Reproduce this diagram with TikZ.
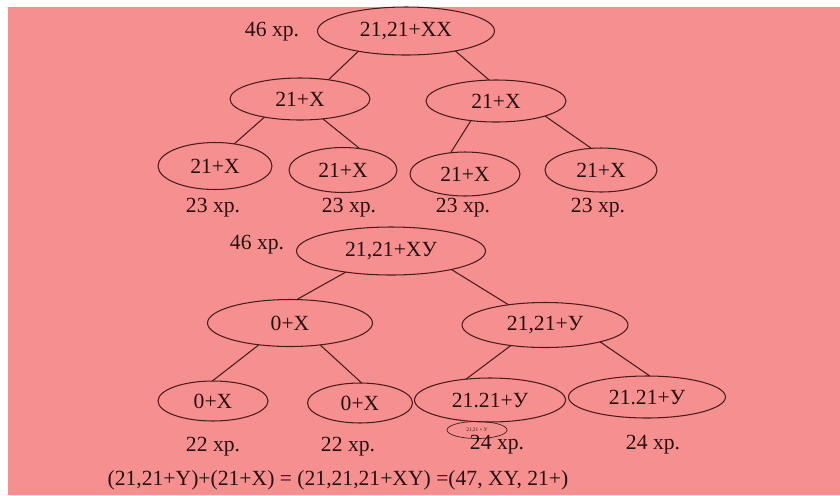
\documentclass[tikz,border=0pt]{standalone}
\usepackage{fontspec}
\setmainfont{Liberation Serif}
\usepackage{xcolor}
\definecolor{bgpink}{RGB}{246,143,143}
\definecolor{inkdark}{RGB}{40,16,16}
\definecolor{linebrown}{RGB}{72,28,28}
\usetikzlibrary{shapes.geometric}

\begin{document}
\begin{tikzpicture}[x=0.02cm, y=-0.02cm,
  cell/.style={draw=linebrown, line width=0.6pt, ellipse, inner sep=0pt, outer sep=0pt,
               text=inkdark, font=\fontsize{12.3}{14}\selectfont},
  lbl/.style={text=inkdark, inner sep=1pt, font=\fontsize{12.3}{14}\selectfont},
  edge/.style={draw=linebrown, line width=0.6pt}]

% Background
\useasboundingbox (0,0) rectangle (840,495);
\fill[white] (0,0) rectangle (840,495);
\fill[bgpink] (8,7) rectangle (840,495);

% Tree 1: 21,21+XX
\node[lbl] (t1) at (272,32) {46 хр.};
\node[cell, minimum width=3.54cm, minimum height=0.96cm] (r1) at (406,31) {21,21+XX};
\node[cell, minimum width=2.80cm, minimum height=0.84cm] (a1) at (300,99) {21+X};
\node[cell, minimum width=2.80cm, minimum height=0.84cm] (b1) at (496,101) {21+X};
\node[cell, minimum width=2.28cm, minimum height=0.94cm] (c1) at (215,166) {21+X};
\node[cell, minimum width=2.16cm, minimum height=0.90cm] (c2) at (343,170) {21+X};
\node[cell, minimum width=2.20cm, minimum height=0.88cm] (c3) at (465,174) {21+X};
\node[cell, minimum width=2.24cm, minimum height=0.88cm] (c4) at (601,170) {21+X};

\node[lbl] (n1) at (213,208) {23 хр.};
\node[lbl] (n2) at (349,208) {23 хр.};
\node[lbl] (n3) at (463,208) {23 хр.};
\node[lbl] (n4) at (598,208) {23 хр.};

\draw[edge] (r1.203) -- (a1.34);
\draw[edge] (r1.338) -- (b1.108);
\draw[edge] (a1.207) -- (c1.49);
\draw[edge] (a1.319) -- (c2.52);
\draw[edge] (b1.218) -- (c3.124);
\draw[edge] (b1.343) -- (c4.114);

% Tree 2: 21,21+XY
\node[lbl] (t2) at (257,245) {46 хр.};
\node[cell, minimum width=3.78cm, minimum height=0.96cm] (r2) at (391,251) {21,21+XУ};
\node[cell, minimum width=3.30cm, minimum height=0.94cm] (a2) at (290,323) {0+X};
\node[cell, minimum width=3.32cm, minimum height=0.90cm] (b2) at (545,325) {21,21+У};
\node[cell, minimum width=2.20cm, minimum height=0.80cm] (d1) at (213,401) {0+X};
\node[cell, minimum width=2.10cm, minimum height=0.80cm] (d2) at (360,403) {0+X};
\node[cell, minimum width=3.02cm, minimum height=0.88cm] (d3) at (490,400) {21.21+У};
\node[cell, minimum width=3.14cm, minimum height=0.84cm] (d4) at (647,397) {21.21+У};

% small copy under d3
\node[cell, line width=0.4pt, minimum width=1.20cm, minimum height=0.34cm,
      font=\fontsize{3}{3}\selectfont] (s1) at (477,430) {21,21 + У};

\node[lbl] (m1) at (213,447) {22 хр.};
\node[lbl] (m2) at (348,447) {22 хр.};
\node[lbl] (m3) at (497,445) {24 хр.};
\node[lbl] (m4) at (653,445) {24 хр.};

\draw[edge] (r2.205) -- (a2.74);
\draw[edge] (r2.343) -- (b2.151);
\draw[edge] (a2.215) -- (d1.92);
\draw[edge] (a2.324) -- (d2.85);
\draw[edge] (b2.211) -- (d3.139);
\draw[edge] (b2.343) -- (d4.82);

% Sum
\node[lbl] (eq) at (338,480) {(21,21+Y)+(21+X) = (21,21,21+XY) =(47, XY, 21+)};

\end{tikzpicture}
\end{document}
